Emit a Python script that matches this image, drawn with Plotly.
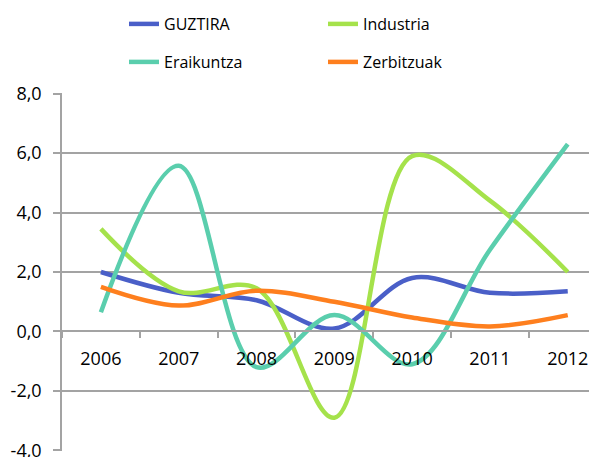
import plotly.graph_objects as go

YEARS = ["2006", "2007", "2008", "2009", "2010", "2011", "2012"]
GUZTIRA = [2.0, 1.3, 1.05, 0.1, 1.8, 1.3, 1.35]
INDUSTRIA = [3.45, 1.35, 1.45, -2.9, 5.9, 4.4, 2.0]
ERAIKUNTZA = [0.65, 5.57, -1.2, 0.55, -1.1, 2.75, 6.3]
ZERBITZUAK = [1.5, 0.87, 1.37, 1.0, 0.47, 0.17, 0.55]

Y_TICKS = [-4, -2, 0, 2, 4, 6, 8]
Y_TICK_LABELS = ["-4,0", "-2,0", "0,0", "2,0", "4,0", "6,0", "8,0"]

SERIES = [
    ("GUZTIRA", GUZTIRA, "#4a5fc8", "legend"),
    ("Industria", INDUSTRIA, "#a5e24b", "legend"),
    ("Eraikuntza", ERAIKUNTZA, "#5acead", "legend2"),
    ("Zerbitzuak", ZERBITZUAK, "#fe7f1e", "legend2"),
]

GRID = "#a3a3a3"
FONT = "Open Sans, sans-serif"

# the page body has an 8px margin, so the figure is drawn 8px smaller
# and every offset below is in figure pixels
W, H = 589, 449

fig = go.Figure()
for name, values, color, legend in SERIES:
    fig.add_trace(
        go.Scatter(
            x=YEARS,
            y=values,
            name=name,
            mode="lines",
            line=dict(color=color, width=4.5, shape="spline", smoothing=1),
            legend=legend,
        )
    )

legend_style = dict(
    orientation="h",
    xref="container",
    yref="container",
    x=116 / W,
    xanchor="left",
    yanchor="middle",
    entrywidth=154,
    entrywidthmode="pixels",
    font=dict(family=FONT, size=16, color="#000000"),
    bgcolor="rgba(0,0,0,0)",
)

fig.update_layout(
    width=W,
    height=H,
    margin=dict(l=54, r=0, t=85.4, b=6.4, autoexpand=False),
    paper_bgcolor="white",
    plot_bgcolor="white",
    font=dict(family=FONT, size=18, color="#000000"),
    legend=dict(legend_style, y=1 - 16 / H),
    legend2=dict(legend_style, y=1 - 54 / H),
)
fig.update_xaxes(
    type="category",
    range=[-0.5, 6.376],
    anchor="free",
    position=4.02 / 12.04,
    automargin=False,
    showgrid=False,
    showline=True,
    linecolor=GRID,
    linewidth=1.5,
    ticks="outside",
    tickson="boundaries",
    ticklen=6,
    tickcolor=GRID,
    tickwidth=1.5,
    ticklabelstandoff=11,
)
fig.update_yaxes(
    range=[-4.02, 8.02],
    tickmode="array",
    tickvals=Y_TICKS,
    ticktext=Y_TICK_LABELS,
    automargin=False,
    ticklabeloverflow="allow",
    showgrid=True,
    gridcolor=GRID,
    gridwidth=1.5,
    zeroline=False,
    showline=True,
    linecolor=GRID,
    linewidth=1.5,
    ticks="outside",
    ticklen=7,
    tickcolor=GRID,
    tickwidth=1.5,
    ticklabelstandoff=8,
)

fig.write_html("out.html")
